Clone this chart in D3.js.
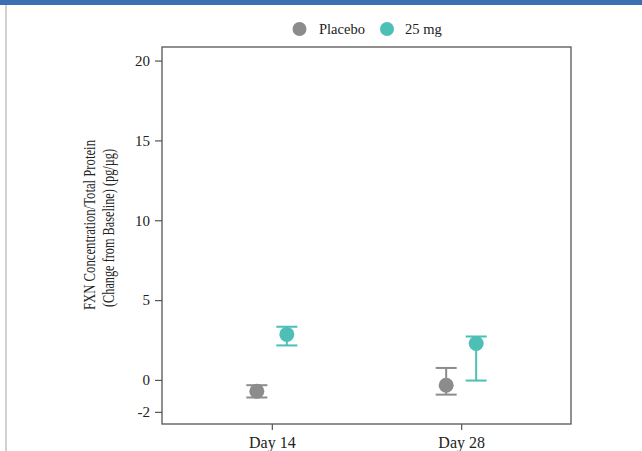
<!DOCTYPE html>
<html>
<head>
<meta charset="utf-8">
<script src="https://cdn.jsdelivr.net/npm/d3@7"></script>
<style>
  html, body { margin: 0; padding: 0; background: #fff; }
  svg { display: block; }
  text { font-family: "Liberation Serif", "Times New Roman", serif; fill: #222; }
</style>
</head>
<body>
<script>
// ---- data ----
const categories = ["Day 14", "Day 28"];
const seriesNames = ["Placebo", "25 mg"];
const placeboMean = [-0.71, -0.33];
const placeboLow  = [-1.10, -0.92];
const placeboHigh = [-0.33, 0.75];
const doseMean = [2.85, 2.28];
const doseLow  = [2.16, -0.04];
const doseHigh = [3.33, 2.72];
const yTicks = [-2, 0, 5, 10, 15, 20];
const yTitleLines = ["FXN Concentration/Total Protein", "(Change from Baseline) (pg/\u00b5g)"];

const W = 642, H = 451;
const colors = {"Placebo": "#8c8c8c", "25 mg": "#4dbfb7"};
const margin = {left: 162, right: 71, top: 47, bottom: 27};

const svg = d3.select("body").append("svg").attr("width", W).attr("height", H);

// frame decorations
svg.append("rect").attr("x", 0).attr("y", 0).attr("width", W).attr("height", 5).attr("fill", "#3a70b2");
svg.append("rect").attr("x", 5).attr("y", 5).attr("width", 2).attr("height", H - 5).attr("fill", "#d0d0d0");

const x = d3.scalePoint().domain(categories).range([margin.left, W - margin.right]).padding(0.58);
const y = d3.scaleLinear().domain([-2.76, 20.85]).range([H - margin.bottom, margin.top]);

// plot box
svg.append("rect")
  .attr("x", margin.left).attr("y", margin.top)
  .attr("width", W - margin.right - margin.left)
  .attr("height", H - margin.bottom - margin.top)
  .attr("fill", "none").attr("stroke", "#555").attr("stroke-width", 1.3);

// axes
const yAxis = svg.append("g").attr("transform", `translate(${margin.left},0)`)
  .call(d3.axisLeft(y).tickValues(yTicks).tickFormat(d => String(d)).tickSize(7).tickPadding(5));
yAxis.select(".domain").remove();
yAxis.selectAll("line").attr("stroke", "#555").attr("stroke-width", 1.2);
yAxis.selectAll("text").style("font-size", "15px").style("font-family", "Liberation Serif, serif").attr("fill", "#222");

const xAxis = svg.append("g").attr("transform", `translate(0,${H - margin.bottom})`)
  .call(d3.axisBottom(x).tickSize(6).tickPadding(7));
xAxis.select(".domain").remove();
xAxis.selectAll("line").attr("stroke", "#555").attr("stroke-width", 1.2);
xAxis.selectAll("text").style("font-size", "16px").style("font-family", "Liberation Serif, serif").attr("fill", "#222");

// y title
const titlePos = [{x: 95, y: 225, len: 170}, {x: 114, y: 228, len: 158}];
yTitleLines.forEach((l, i) => {
  svg.append("text")
    .attr("transform", `translate(${titlePos[i].x},${titlePos[i].y}) rotate(-90)`)
    .attr("text-anchor", "middle")
    .attr("textLength", titlePos[i].len)
    .attr("lengthAdjust", "spacingAndGlyphs")
    .style("font-size", "16px")
    .text(l);
});

// data
const rows = [];
categories.forEach((c, i) => {
  rows.push({cat: c, s: "Placebo", off: -15, m: placeboMean[i], lo: placeboLow[i], hi: placeboHigh[i]});
  rows.push({cat: c, s: "25 mg", off: 15, m: doseMean[i], lo: doseLow[i], hi: doseHigh[i]});
});

const capW = 10.5;
const g = svg.append("g");
rows.forEach(d => {
  const cx = x(d.cat) + d.off;
  const col = colors[d.s];
  g.append("line").attr("x1", cx).attr("x2", cx).attr("y1", y(d.lo)).attr("y2", y(d.hi)).attr("stroke", col).attr("stroke-width", 2);
  g.append("line").attr("x1", cx - capW).attr("x2", cx + capW).attr("y1", y(d.lo)).attr("y2", y(d.lo)).attr("stroke", col).attr("stroke-width", 2);
  g.append("line").attr("x1", cx - capW).attr("x2", cx + capW).attr("y1", y(d.hi)).attr("y2", y(d.hi)).attr("stroke", col).attr("stroke-width", 2);
  g.append("circle").attr("cx", cx).attr("cy", y(d.m)).attr("r", 7.5).attr("fill", col);
});

// legend
const legendPos = [{s: "Placebo", cx: 299.5, tx: 319}, {s: "25 mg", cx: 387, tx: 405}];
legendPos.forEach(l => {
  svg.append("circle").attr("cx", l.cx).attr("cy", 29).attr("r", 7).attr("fill", colors[l.s]);
  svg.append("text").attr("x", l.tx).attr("y", 34).style("font-size", "14.5px").text(l.s);
});
</script>
</body>
</html>
